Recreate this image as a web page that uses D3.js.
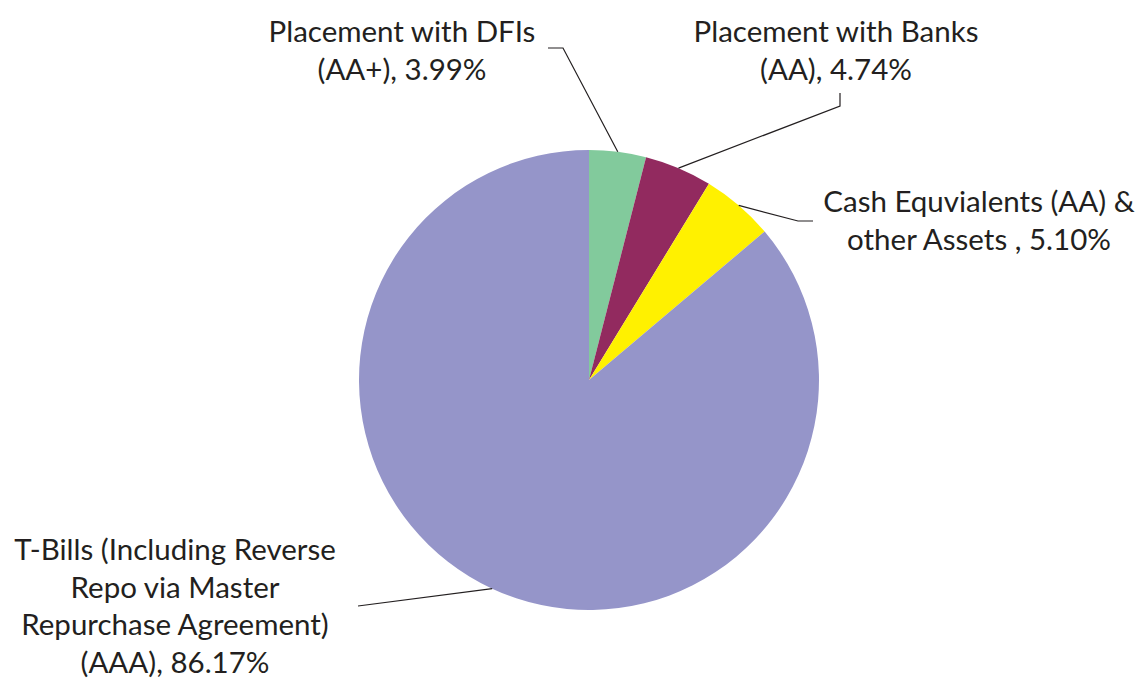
<!DOCTYPE html>
<html>
<head>
<meta charset="utf-8">
<script src="https://cdn.jsdelivr.net/npm/d3@7"></script>
<style>
  body { margin: 0; background: #fff; }
  svg { display: block; }
  text { font-family: Lato, "Open Sans", sans-serif; fill: #231f20; }
</style>
</head>
<body>
<svg id="chart" width="1140" height="680"></svg>
<script>
  // data
  const categories = [
    "Placement with DFIs (AA+)",
    "Placement with Banks (AA)",
    "Cash Equivialents (AA) & other Assets",
    "T-Bills (Including Reverse Repo via Master Repurchase Agreement) (AAA)"
  ];
  const values = [3.99, 4.74, 5.10, 86.17];
  const colors = ["#82ca9c", "#922a5f", "#fff100", "#9595c9"];
  const labelLines = [
    ["Placement with DFIs", "(AA+), 3.99%"],
    ["Placement with Banks", "(AA), 4.74%"],
    ["Cash Equvialents (AA) &", "other Assets , 5.10%"],
    ["T-Bills (Including Reverse", "Repo via Master", "Repurchase Agreement)", "(AAA), 86.17%"]
  ];

  const svg = d3.select("#chart");
  const cx = 589, cy = 380, radius = 230;

  // label layout: text centre, first baseline, and leader elbow/end
  const labelLayout = [
    { x: 402, y: 42, elbow: [563, 48], end: [548, 48] },
    { x: 836, y: 42, elbow: [840, 106], end: [840, 93] },
    { x: 979, y: 212, elbow: [798, 221], end: [813, 221] },
    { x: 175, y: 560, elbow: [358, 606], end: [358, 606] }
  ];
  const lineHeight = 37.5;

  const pie = d3.pie().sort(null).value(d => d);
  const arcs = pie(values);
  const arc = d3.arc().innerRadius(0).outerRadius(radius);

  const g = svg.append("g").attr("transform", `translate(${cx},${cy})`);

  g.selectAll("path.slice")
    .data(arcs)
    .enter().append("path")
      .attr("class", "slice")
      .attr("d", arc)
      .attr("fill", (d, i) => colors[i]);

  // leader lines from the slice edge at its mid angle
  arcs.forEach((d, i) => {
    const a = (d.startAngle + d.endAngle) / 2;
    const px = cx + radius * Math.sin(a);
    const py = cy - radius * Math.cos(a);
    const L = labelLayout[i];
    svg.append("polyline")
      .attr("points", [[px, py], L.elbow, L.end].map(p => p.join(",")).join(" "))
      .attr("fill", "none")
      .attr("stroke", "#231f20")
      .attr("stroke-width", 1.2);
  });

  // labels
  labelLines.forEach((lines, i) => {
    const L = labelLayout[i];
    const t = svg.append("text")
      .attr("text-anchor", "middle")
      .attr("font-size", 29.5);
    lines.forEach((s, j) => {
      t.append("tspan")
        .attr("x", L.x)
        .attr("y", L.y + j * lineHeight)
        .text(s);
    });
  });
</script>
</body>
</html>
